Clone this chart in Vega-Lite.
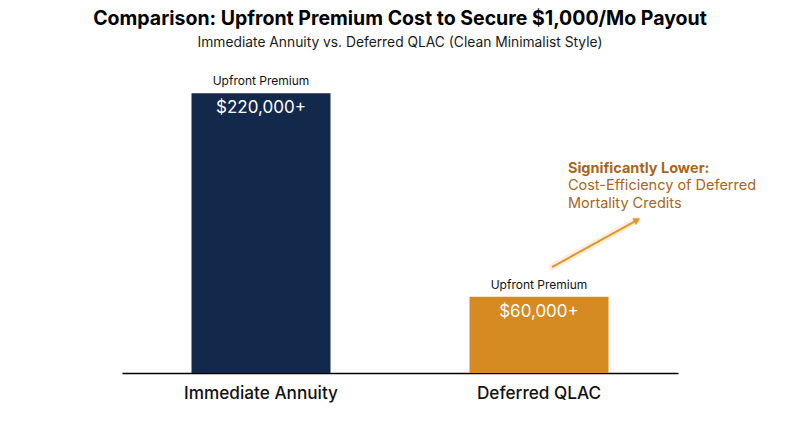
{
  "$schema": "https://vega.github.io/schema/vega-lite/v6.json",
  "autosize": "none",
  "width": 556,
  "height": 318,
  "padding": {"left": 122, "right": 122, "top": 55, "bottom": 74},
  "background": "white",
  "config": {"font": "Inter", "view": {"stroke": null}},
  "title": {
    "text": "Comparison: Upfront Premium Cost to Secure $1,000/Mo Payout",
    "subtitle": "Immediate Annuity vs. Deferred QLAC (Clean Minimalist Style)",
    "anchor": "middle",
    "fontSize": 19.5,
    "fontWeight": "bold",
    "color": "#000000",
    "subtitleFontSize": 13.8,
    "subtitleColor": "#1a1a1a",
    "subtitlePadding": 7,
    "offset": 4
  },
  "datasets": {
    "bars": [
      {"option": "Immediate Annuity", "premium": 220000, "label": "$220,000+", "caption": "Upfront Premium"},
      {"option": "Deferred QLAC", "premium": 60000, "label": "$60,000+", "caption": "Upfront Premium"}
    ],
    "note": [
      {"x": 1.547, "y": 83300, "x2": 1.853, "y2": 120200, "tx": 1.604, "ty": 160300,
       "head": "Significantly Lower:", "body": "Cost-Efficiency of Deferred\nMortality Credits"}
    ]
  },
  "layer": [
    {
      "data": {"name": "bars"},
      "encoding": {
        "x": {
          "field": "option",
          "type": "nominal",
          "sort": null,
          "scale": {"paddingInner": 0.5, "paddingOuter": 0.25},
          "axis": {
            "title": null,
            "labelAngle": 0,
            "labelFontSize": 17.2,
            "labelFontWeight": 500,
            "labelColor": "#111111",
            "labelPadding": 11,
            "ticks": false,
            "domainColor": "#000000",
            "domainWidth": 1.5
          }
        },
        "y": {
          "field": "premium",
          "type": "quantitative",
          "scale": {"domain": [0, 250000], "nice": false},
          "axis": null
        }
      },
      "layer": [
        {
          "mark": {"type": "bar"},
          "encoding": {
            "color": {
              "field": "option",
              "type": "nominal",
              "scale": {"domain": ["Immediate Annuity", "Deferred QLAC"], "range": ["#13294b", "#d68a22"]},
              "legend": null
            }
          }
        },
        {
          "mark": {"type": "text", "baseline": "bottom", "dy": -5, "fontSize": 12, "color": "#111111"},
          "encoding": {"text": {"field": "caption"}}
        },
        {
          "mark": {"type": "text", "baseline": "middle", "dy": 15, "fontSize": 17, "color": "#ffffff"},
          "encoding": {"text": {"field": "label"}}
        }
      ]
    },
    {
      "data": {"name": "note"},
      "encoding": {
        "y": {"field": "y", "type": "quantitative", "scale": {"domain": [0, 250000], "nice": false}, "axis": null}
      },
      "layer": [
        {
          "mark": {"type": "rule", "strokeWidth": 7, "color": "#f0a840", "opacity": 0.2, "strokeCap": "round"},
          "encoding": {
            "x": {"field": "x", "type": "quantitative", "scale": {"domain": [0, 2]}, "axis": null},
            "x2": {"field": "x2"},
            "y2": {"field": "y2"}
          }
        },
        {
          "mark": {"type": "rule", "strokeWidth": 2, "color": "#df9630"},
          "encoding": {
            "x": {"field": "x", "type": "quantitative", "scale": {"domain": [0, 2]}, "axis": null},
            "x2": {"field": "x2"},
            "y2": {"field": "y2"}
          }
        },
        {
          "mark": {"type": "point", "shape": "triangle-up", "filled": true, "size": 60, "color": "#df9630", "angle": 61, "opacity": 1},
          "encoding": {
            "x": {"field": "x2", "type": "quantitative", "scale": {"domain": [0, 2]}, "axis": null},
            "y": {"field": "y2", "type": "quantitative"}
          }
        },
        {
          "mark": {"type": "text", "align": "left", "baseline": "middle", "fontSize": 14.5, "fontWeight": "bold", "color": "#a8661c"},
          "encoding": {
            "x": {"field": "tx", "type": "quantitative", "scale": {"domain": [0, 2]}, "axis": null},
            "y": {"field": "ty", "type": "quantitative"},
            "text": {"field": "head"}
          }
        },
        {
          "mark": {"type": "text", "align": "left", "baseline": "top", "dy": 10, "fontSize": 14.5, "lineHeight": 17.5, "lineBreak": "\n", "color": "#a8661c"},
          "encoding": {
            "x": {"field": "tx", "type": "quantitative", "scale": {"domain": [0, 2]}, "axis": null},
            "y": {"field": "ty", "type": "quantitative"},
            "text": {"field": "body"}
          }
        }
      ]
    }
  ],
  "resolve": {"scale": {"x": "independent"}}
}
